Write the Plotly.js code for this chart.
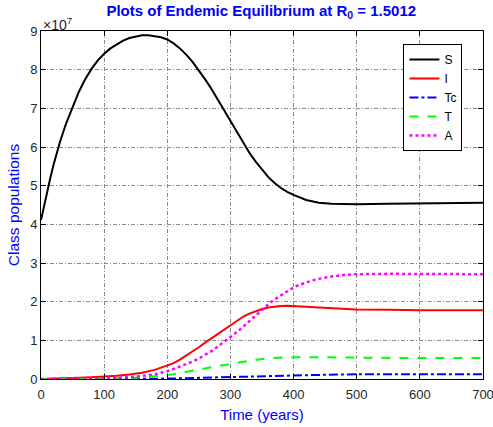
<!DOCTYPE html>
<html>
<head>
<meta charset="utf-8">
<script src="https://cdn.plot.ly/plotly-3.0.1.min.js"></script>
<style>html,body{margin:0;padding:0;background:#fff}#chart{width:493px;height:427px}</style>
</head>
<body>
<div id="chart"></div>
<script>
// values are in units of 10^7 people
const timeS = [0,5,10,15,20,25,30,40,50,60,70,80,90,100,110,120,130,140,150,160,170,180,190,200,210,220,230,240,250,260,270,280,290,300,310,320,330,340,350,360,370,380,390,400,420,440,460,480,500,550,600,650,700];
const S = [4.11,4.5,4.88,5.22,5.55,5.85,6.13,6.62,7.05,7.43,7.75,8.02,8.24,8.41,8.55,8.66,8.75,8.82,8.86,8.89,8.89,8.87,8.84,8.78,8.68,8.55,8.39,8.2,7.99,7.75,7.5,7.22,6.95,6.66,6.38,6.1,5.85,5.62,5.41,5.22,5.07,4.94,4.84,4.76,4.63,4.56,4.53,4.52,4.52,4.53,4.54,4.55,4.56];

const timeI = [0,20,40,60,80,100,120,140,160,180,200,210,220,230,240,250,260,270,280,290,300,310,320,330,340,350,360,370,380,390,400,420,440,460,480,500,550,600,700];
const I = [0,0.005,0.015,0.03,0.045,0.06,0.085,0.115,0.16,0.235,0.34,0.41,0.5,0.6,0.71,0.82,0.94,1.05,1.16,1.28,1.40,1.51,1.61,1.69,1.76,1.81,1.85,1.875,1.89,1.895,1.89,1.87,1.85,1.83,1.81,1.80,1.79,1.78,1.78];

const timeTc = [0,150,200,250,300,350,400,450,500,600,700];
const Tc = [0,0.005,0.01,0.03,0.05,0.08,0.1,0.11,0.12,0.12,0.12];

const timeT = [0,50,100,150,175,200,225,250,275,300,325,350,375,400,450,500,600,700];
const T = [0,0.003,0.01,0.03,0.06,0.1,0.17,0.25,0.32,0.39,0.46,0.52,0.55,0.56,0.56,0.55,0.54,0.54];

const timeA = [0,50,100,130,150,170,180,190,200,210,220,230,240,250,260,270,280,290,300,310,320,330,340,350,360,370,380,390,400,410,420,430,440,460,480,500,550,600,700];
const A = [0,0.005,0.02,0.04,0.06,0.1,0.12,0.16,0.2,0.26,0.32,0.38,0.45,0.53,0.62,0.72,0.84,0.96,1.08,1.21,1.35,1.50,1.65,1.79,1.93,2.06,2.17,2.28,2.37,2.44,2.5,2.55,2.59,2.65,2.69,2.71,2.72,2.72,2.71];

const yTicks = [0,1,2,3,4,5,6,7,8,9];
const xTicks = [0,100,200,300,400,500,600,700];

const traces = [
  {x: timeS, y: S, name: 'S', mode: 'lines', line: {color: '#000000', width: 2}},
  {x: timeI, y: I, name: 'I', mode: 'lines', line: {color: '#ff0000', width: 2}},
  {x: timeTc, y: Tc, name: 'Tc', mode: 'lines', line: {color: '#0000ff', width: 2, dash: 'dashdot'}},
  {x: timeT, y: T, name: 'T', mode: 'lines', line: {color: '#00ff00', width: 2, dash: 'dash'}},
  {x: timeA, y: A, name: 'A', mode: 'lines', line: {color: '#ff00ff', width: 2.5, dash: 'dot'}}
];

const gridDash = '4px,2px,1px,2px';
const layout = {
  width: 493, height: 427,
  margin: {l: 41, r: 10, t: 31, b: 48},
  paper_bgcolor: '#ffffff', plot_bgcolor: '#ffffff',
  font: {family: 'Liberation Sans, Arial, sans-serif', size: 13, color: '#262626'},
  title: {text: '<b>Plots of Endemic Equilibrium at R<sub>0</sub> = 1.5012</b>', font: {size: 15, color: '#0000ff'}, x: 0.53, xanchor: 'center', y: 0.988, yanchor: 'top'},
  xaxis: {
    range: [0, 700], tickvals: xTicks, ticktext: xTicks.map(String), ticklabeloverflow: 'allow', ticklabelstandoff: 3,
    showgrid: true, gridcolor: '#8a8a8a', griddash: gridDash, gridwidth: 1,
    zeroline: false, showline: true, linecolor: '#000', linewidth: 1, mirror: 'allticks',
    ticks: 'inside', ticklen: 5, tickcolor: '#000',
    title: {text: 'Time (years)', font: {size: 15, color: '#0000ff'}, standoff: 8}
  },
  yaxis: {
    range: [0, 9], tickvals: yTicks, ticktext: yTicks.map(String),
    showgrid: true, gridcolor: '#8a8a8a', griddash: gridDash, gridwidth: 1,
    zeroline: false, showline: true, linecolor: '#000', linewidth: 1, mirror: 'allticks',
    ticks: 'inside', ticklen: 5, tickcolor: '#000',
    title: {text: 'Class populations', font: {size: 15.5, color: '#0000ff'}, standoff: 6}
  },
  legend: {x: 0.82, y: 0.963, xanchor: 'left', yanchor: 'top', bgcolor: '#ffffff', bordercolor: '#000', borderwidth: 1,
           font: {size: 12, color: '#000'}, tracegroupgap: 0},
  annotations: [
    {text: '\u00d710<sup>7</sup>', xref: 'paper', yref: 'paper', x: 0, y: 1, xanchor: 'left', yanchor: 'bottom', showarrow: false, font: {size: 14, color: '#262626'}, yshift: -4}
  ],
  showlegend: true
};

Plotly.newPlot('chart', traces, layout, {displayModeBar: false, staticPlot: true});
</script>
</body>
</html>
